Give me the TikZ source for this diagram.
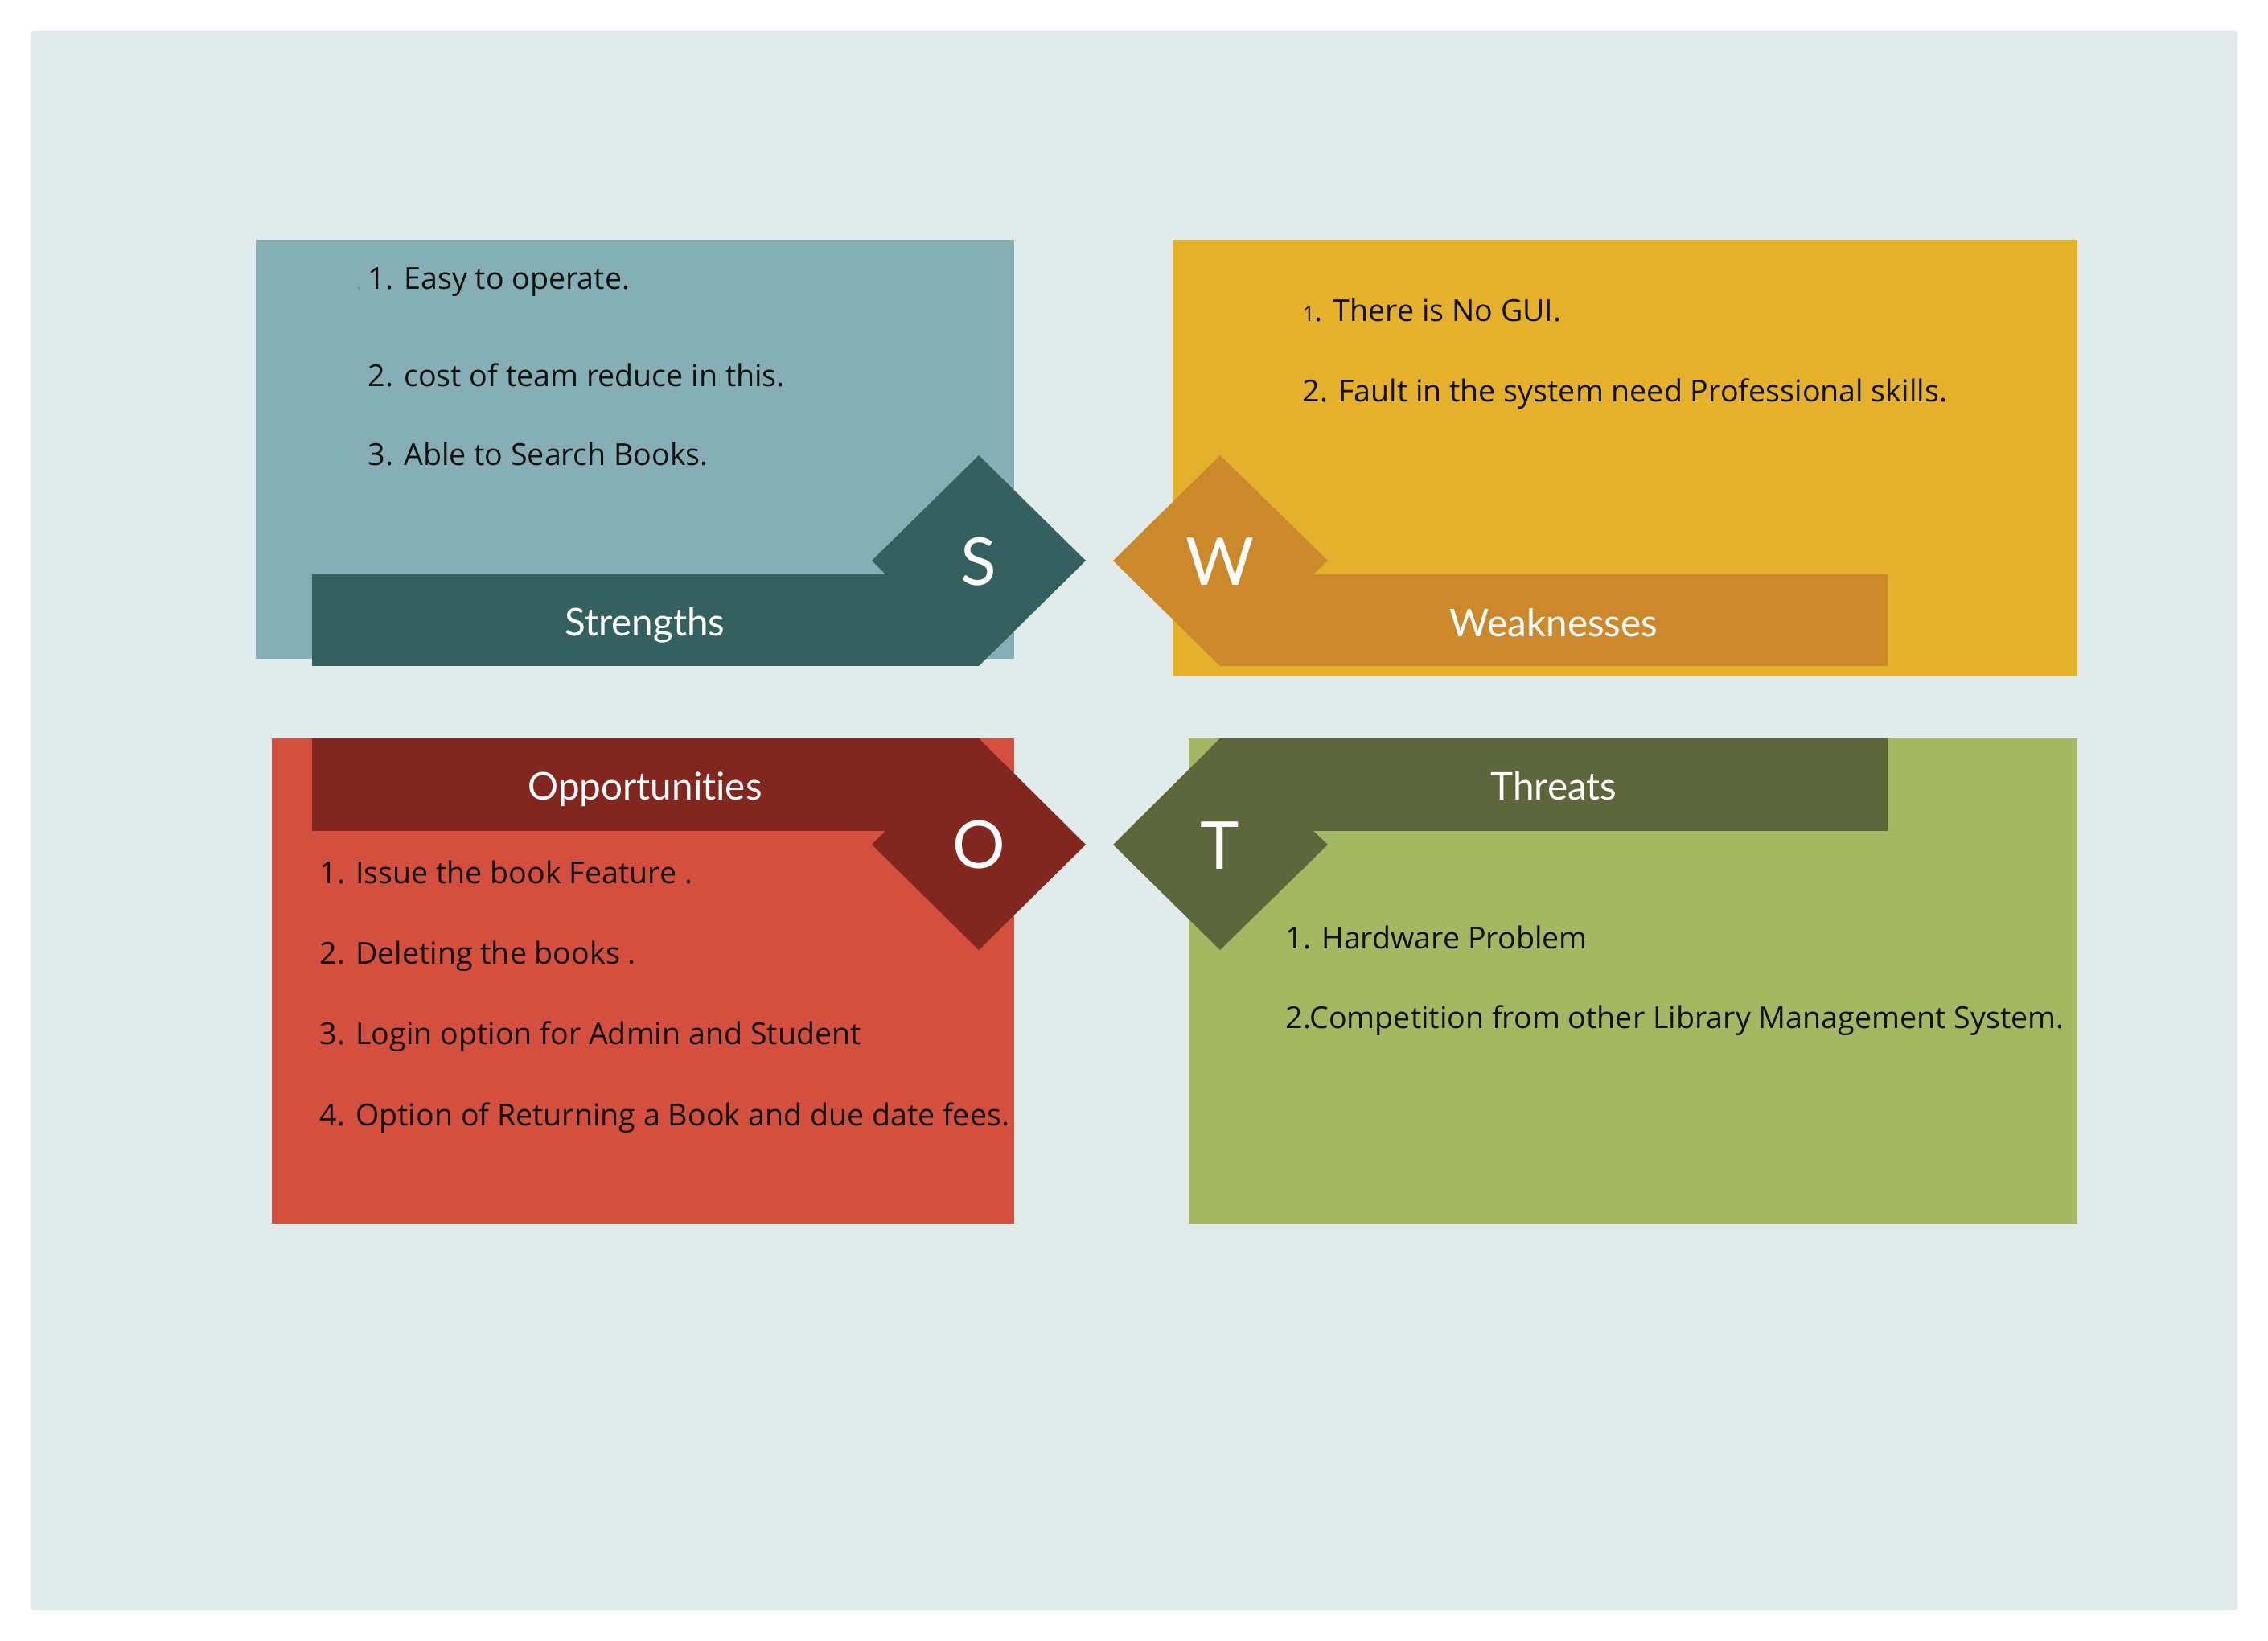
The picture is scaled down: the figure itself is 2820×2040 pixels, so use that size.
\documentclass[tikz,border=0pt]{standalone}
\usepackage{fontspec}
\setmainfont{Open Sans}
\newfontfamily\headfont[Ligatures={NoCommon}]{Lato}
\definecolor{bgc}{HTML}{E2EBEC}
\definecolor{sLight}{HTML}{85AFB4}
\definecolor{sDark}{HTML}{346160}
\definecolor{wLight}{HTML}{E5B02C}
\definecolor{wDark}{HTML}{CC892B}
\definecolor{oLight}{HTML}{D44F3D}
\definecolor{oDark}{HTML}{822620}
\definecolor{tLight}{HTML}{A4B864}
\definecolor{tDark}{HTML}{5E663B}
\definecolor{txt}{HTML}{111111}
\begin{document}
\begin{tikzpicture}[x=0.25pt,y=-0.25pt,
  item/.style={anchor=base west, inner sep=0pt, text=txt, font=\fontsize{9.4}{11}\selectfont},
  head/.style={anchor=base, inner sep=0pt, text=white, font=\headfont\fontsize{11.9}{14}\selectfont},
  letter/.style={anchor=base, inner sep=0pt, text=white, font=\headfont\fontsize{20.5}{24}\selectfont}]
\useasboundingbox (0,0) rectangle (2820,2040);
\fill[white] (0,0) rectangle (2820,2040);
\fill[bgc, rounded corners=1pt] (38,38) rectangle (2782,2002);
% boxes
\fill[sLight] (318,298) rectangle (1261,819);
\fill[wLight] (1458,298) rectangle (2583,840);
\fill[oLight] (338,918) rectangle (1261,1521);
\fill[tLight] (1478,918) rectangle (2583,1521);
% banners
\fill[sDark] (388,714) -- (1101,714) -- (1084,697) -- (1217,566) -- (1350,697) -- (1217,828) -- (388,828) -- cycle;
\fill[wDark] (2347,714) -- (1633,714) -- (1651,697) -- (1517,566) -- (1384,697) -- (1517,828) -- (2347,828) -- cycle;
\fill[oDark] (388,918) -- (1217,918) -- (1350,1050) -- (1217,1181) -- (1084,1050) -- (1101,1033) -- (388,1033) -- cycle;
\fill[tDark] (2347,918) -- (1517,918) -- (1384,1050) -- (1517,1181) -- (1651,1050) -- (1633,1033) -- (2347,1033) -- cycle;
% headings
\node[head] (sh) at (802,791) {Strengths};
\node[head] (wh) at (1932,792) {Weaknesses};
\node[head] (oh) at (802,995) {Opportunities};
\node[head] (th) at (1932,995) {Threats};
\node[letter] (sl) at (1217,728) {S};
\node[letter] (wl) at (1517,728) {W};
\node[letter] (ol) at (1217,1080) {O};
\node[letter] (tl) at (1517,1081) {T};
% items
\node[anchor=base, inner sep=0pt, text=gray, font=\fontsize{5}{6}\selectfont] (sdot) at (446,360) {.};
\node[item] (s1) at (457,360) {1. Easy to operate.};
\node[item] (s2) at (457,481) {2. cost of team reduce in this.};
\node[item] (s3) at (457,579) {3. Able to Search Books.};
\node[item] (w1) at (1619,400) {{\fontsize{6.5}{8}\selectfont 1}. There is No GUI.};
\node[item] (w2) at (1619,500) {2. Fault in the system need Professional skills.};
\node[item] (o1) at (397,1099) {1. Issue the book Feature .};
\node[item] (o2) at (397,1199) {2. Deleting the books .};
\node[item] (o3) at (397,1299) {3. Login option for Admin and Student};
\node[item] (o4) at (397,1400) {4. Option of Returning a Book and due date fees.};
\node[item] (t1) at (1598,1180) {1. Hardware Problem};
\node[item] (t2) at (1598,1279) {2.Competition from other Library Management System.};
\end{tikzpicture}
\end{document}
